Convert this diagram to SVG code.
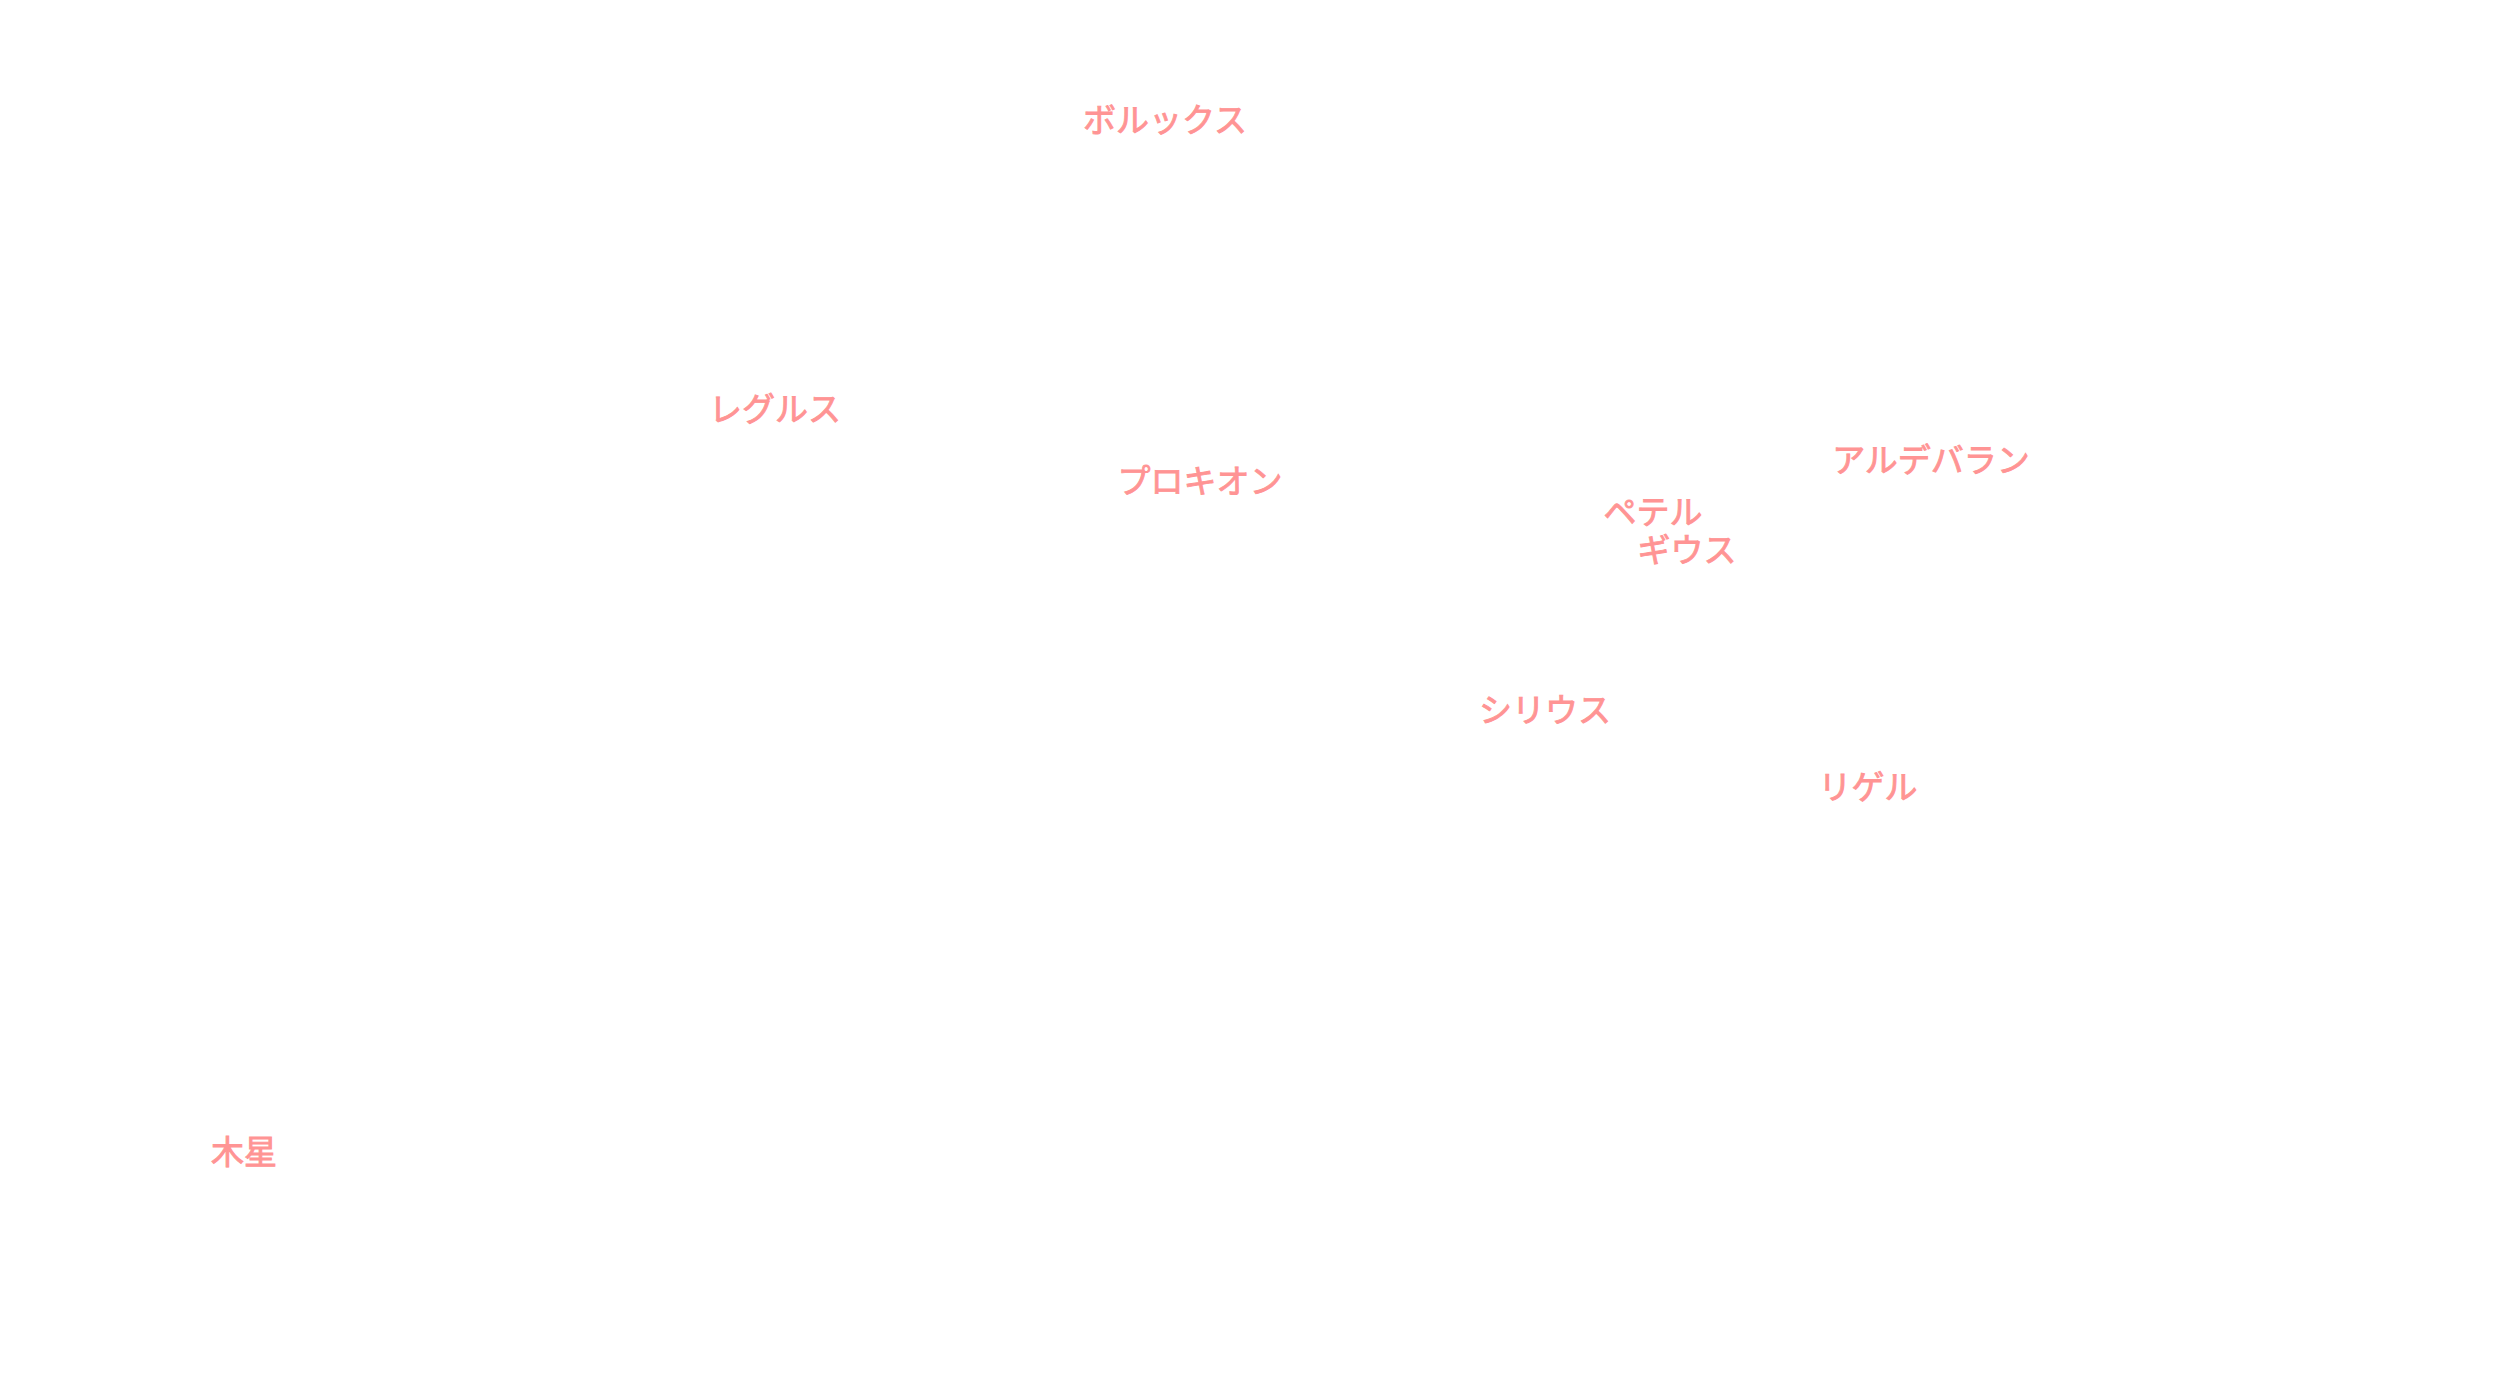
<svg xmlns="http://www.w3.org/2000/svg" width="2500" height="1400" viewBox="0 0 2500 1400">
<style>
.lbl{font-family:"Noto Sans CJK JP","Noto Sans",sans-serif;font-size:33px;fill:#ff9494;stroke:#ff9494;stroke-width:0.9px;text-anchor:middle}
</style>
<rect width="2500" height="1400" fill="#ffffff"/>
<g id="connectors"></g>
<g id="pollux"><text class="lbl" x="1165" y="132">ボルックス</text></g>
<g id="regulus"><text class="lbl" x="775" y="421">レグルス</text></g>
<g id="procyon"><text class="lbl" x="1200" y="493">プロキオン</text></g>
<g id="betelgeuse"><text class="lbl" x="1653" y="524">ペテル</text><text class="lbl" x="1687" y="562">ギウス</text></g>
<g id="aldebaran"><text class="lbl" x="1931" y="472">アルデバラン</text></g>
<g id="sirius"><text class="lbl" x="1545" y="722">シリウス</text></g>
<g id="rigel"><text class="lbl" x="1868" y="799">リゲル</text></g>
<g id="jupiter"><text class="lbl" x="244" y="1164">木星</text></g>
</svg>
